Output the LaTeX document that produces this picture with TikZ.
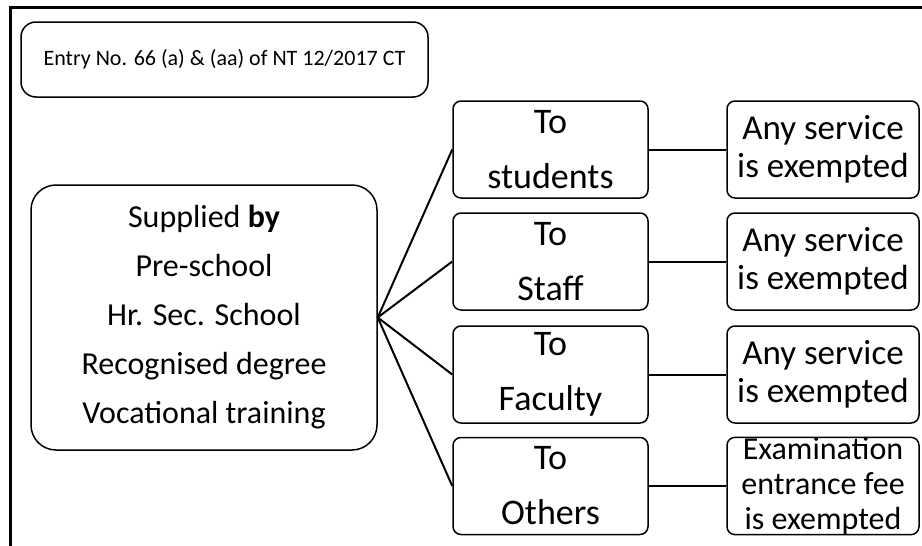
\documentclass[tikz,border=0pt]{standalone}
\usepackage{fontspec}
\setmainfont{Carlito}

\begin{document}
\begin{tikzpicture}[x=1pt,y=-1pt,
  box/.style={draw=black,line width=1.5pt,rounded corners=8pt,inner sep=0pt,align=center},
  link/.style={draw=black,line width=2pt}]
\useasboundingbox (0,0) rectangle (922,546);
\path[draw=black,line width=3pt] (10,546) -- (10,7) -- (922,7);
\node[box,rounded corners=15pt,minimum width=407pt,minimum height=75pt,font=\fontsize{22}{26}\selectfont] (entry-0) at (224.5,59.5) {Entry No. 66 (a) \& (aa) of NT 12/2017 CT};
\node[box,rounded corners=25pt,minimum width=346pt,minimum height=265pt,font=\fontsize{32}{49}\selectfont] (supplied-0) at (204,317.5) {Supplied \textbf{by}\\Pre-school\\Hr. Sec. School\\Recognised degree\\Vocational training};
\node[box,minimum width=195pt,minimum height=97pt,font=\fontsize{36}{55}\selectfont] (to-0-0) at (550.5,149.5) {To\\students};
\node[box,minimum width=195pt,minimum height=97pt,font=\fontsize{36}{55}\selectfont] (to-0-1) at (550.5,261.5) {To\\Staff};
\node[box,minimum width=195pt,minimum height=97pt,font=\fontsize{36}{55}\selectfont] (to-0-2) at (550.5,374.5) {To\\Faculty};
\node[box,minimum width=195pt,minimum height=97pt,font=\fontsize{36}{55}\selectfont] (to-0-3) at (550.5,486) {To\\Others};
\node[box,minimum width=192pt,minimum height=97pt,font=\fontsize{35}{38}\selectfont] (result-0-0) at (823,149.5) {Any service\\is exempted};
\node[box,minimum width=192pt,minimum height=97pt,font=\fontsize{35}{38}\selectfont] (result-0-1) at (823,261.5) {Any service\\is exempted};
\node[box,minimum width=192pt,minimum height=97pt,font=\fontsize{35}{38}\selectfont] (result-0-2) at (823,374.5) {Any service\\is exempted};
\node[box,minimum width=192pt,minimum height=97pt,font=\fontsize{32}{35}\selectfont] (result-0-3) at (823,486) {Examination\\entrance fee\\is exempted};
\draw[link] (supplied-0.east) -- (to-0-0.west);
\draw[link] (supplied-0.east) -- (to-0-1.west);
\draw[link] (supplied-0.east) -- (to-0-2.west);
\draw[link] (supplied-0.east) -- (to-0-3.west);
\draw[link] (to-0-0) -- (result-0-0);
\draw[link] (to-0-1) -- (result-0-1);
\draw[link] (to-0-2) -- (result-0-2);
\draw[link] (to-0-3) -- (result-0-3);
\end{tikzpicture}
\end{document}
